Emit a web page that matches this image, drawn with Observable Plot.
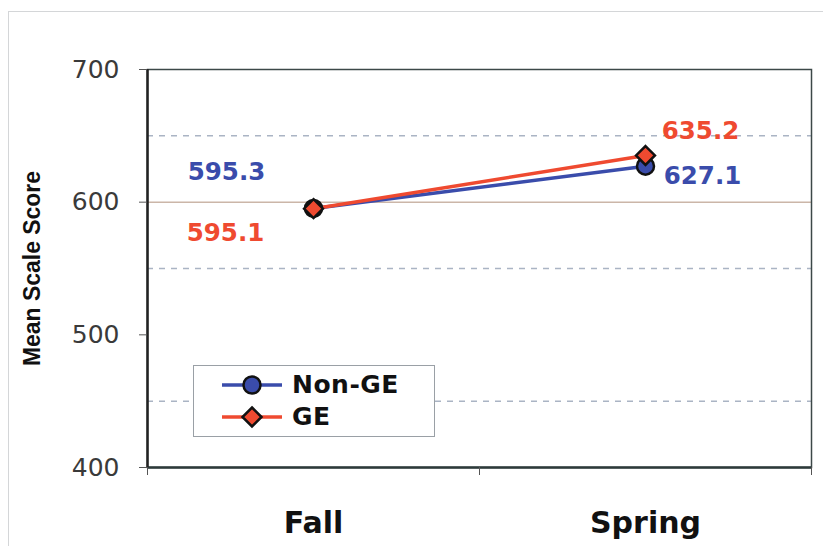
<!DOCTYPE html>
<html>
<head>
<meta charset="utf-8">
<script src="https://cdn.jsdelivr.net/npm/d3@7"></script>
<script src="https://cdn.jsdelivr.net/npm/@observablehq/plot@0.6"></script>
<style>
  html, body { margin: 0; padding: 0; background: #fff; }
  #wrap { position: relative; width: 823px; height: 546px; overflow: hidden; }
  #border { position: absolute; left: 8px; top: 11px; width: 830px; height: 560px; border: 1px solid #d4d6d8; box-sizing: border-box; }
  #legend { position: absolute; left: 193px; top: 365px; width: 242px; height: 72px; border: 1px solid #9aa0a6; background: #fff; box-sizing: border-box; font-family: "DejaVu Sans", sans-serif; font-weight: bold; font-size: 25px; letter-spacing: 0.5px; color: #111; }
  .row { position: absolute; left: 26px; display: flex; align-items: center; }
  .row span { margin-left: 8px; }
  svg { font-family: "DejaVu Sans", sans-serif; }
</style>
</head>
<body>
<div id="wrap">
  <div id="border"></div>
  <div id="chart"></div>
  <div id="legend"></div>
</div>
<script>
// ---- data ----
const seasons = ["Fall", "Spring"];
const nonGE = [595.3, 627.1];
const ge = [595.1, 635.2];
const seriesNames = ["Non-GE", "GE"];
const yTicks = [400, 500, 600, 700];
const gridDashed = [450, 550, 650];
const gridSolid = [600];
const yTitle = "Mean Scale Score";

const colors = { "Non-GE": "#3a4cab", "GE": "#ef4a30" };

const rows = [
  ...seasons.map((s, i) => ({ season: s, series: "Non-GE", value: nonGE[i] })),
  ...seasons.map((s, i) => ({ season: s, series: "GE", value: ge[i] }))
];

const W = 823, H = 546;
const mL = 147, mR = 12, mT = 69, mB = 79;
const bw = (W - mL - mR) / seasons.length;
const innerH = H - mT - mB;

const nonRows = rows.filter(d => d.series === "Non-GE");
const geRows = rows.filter(d => d.series === "GE");

const labelStyle = { x: "season", y: "value", text: d => d.value.toFixed(1), fontSize: 24.5, fontWeight: "bold" };

const chart = Plot.plot({
  width: W,
  height: H,
  marginLeft: mL,
  marginRight: mR,
  marginTop: mT,
  marginBottom: mB,
  x: { type: "band", domain: seasons, padding: 0, label: null },
  y: { domain: [400, 700], label: null },
  style: { background: "transparent", overflow: "visible" },
  marks: [
    Plot.ruleY(gridDashed, { stroke: "#aab4c4", strokeWidth: 1.5, strokeDasharray: "6,6" }),
    Plot.ruleY(gridSolid, { stroke: "#cbb6a8", strokeWidth: 1.5 }),
    Plot.frame({ stroke: "#3c4848", strokeWidth: 1.5 }),
    Plot.ruleY([400], { stroke: "#2d3a3a", strokeWidth: 2.5 }),
    Plot.ruleX([seasons[0]], { dx: -bw / 2, stroke: "#222", strokeWidth: 2.5 }),
    Plot.ruleX(seasons, { dx: -bw / 2, insetTop: innerH, insetBottom: -8, stroke: "#555", strokeWidth: 1 }),
    Plot.ruleX([seasons[seasons.length - 1]], { dx: bw / 2, insetTop: innerH, insetBottom: -8, stroke: "#555", strokeWidth: 1 }),
    Plot.axisY({ ticks: yTicks, tickSize: 8, tickPadding: 20, fontSize: 25, stroke: "#555", color: "#3a3a3a", tickFormat: d => String(d) }),
    Plot.axisX({ tickSize: 0, tickPadding: 44, fontSize: 30, fontWeight: "bold", color: "#111" }),
    Plot.text([yTitle], { frameAnchor: "left", textAnchor: "middle", rotate: -90, dx: -115, fontSize: 24, fontWeight: "bold", fill: "#111", fontFamily: "Liberation Sans, Arial, sans-serif" }),
    Plot.line(nonRows, { x: "season", y: "value", stroke: colors["Non-GE"], strokeWidth: 3.5 }),
    Plot.line(geRows, { x: "season", y: "value", stroke: colors["GE"], strokeWidth: 3.5 }),
    Plot.dot(nonRows, { x: "season", y: "value", symbol: "circle", r: 8.5, fill: colors["Non-GE"], stroke: "#111", strokeWidth: 2.5 }),
    Plot.dot(geRows, { x: "season", y: "value", symbol: "diamond2", r: 8.5, fill: colors["GE"], stroke: "#111", strokeWidth: 2.5 }),
    Plot.text(nonRows, { ...labelStyle, fill: colors["Non-GE"], filter: d => d.season === "Fall", dx: -87, dy: -36 }),
    Plot.text(geRows, { ...labelStyle, fill: colors["GE"], filter: d => d.season === "Fall", dx: -88, dy: 24 }),
    Plot.text(geRows, { ...labelStyle, fill: colors["GE"], filter: d => d.season === "Spring", dx: 55, dy: -24 }),
    Plot.text(nonRows, { ...labelStyle, fill: colors["Non-GE"], filter: d => d.season === "Spring", dx: 57, dy: 10 })
  ]
});
// condense the rotated axis title to the reference's narrow lettering
d3.select(chart).selectAll("text").filter(function () { return this.textContent === yTitle; })
  .attr("textLength", 195).attr("lengthAdjust", "spacingAndGlyphs");
document.getElementById("chart").appendChild(chart);

// legend
const legend = document.getElementById("legend");
seriesNames.forEach((name, i) => {
  const row = document.createElement("div");
  row.className = "row";
  row.style.top = (4 + i * 32) + "px";
  const sym = name === "Non-GE"
    ? `<circle cx="32" cy="12" r="8.5" fill="${colors[name]}" stroke="#111" stroke-width="2.5"/>`
    : `<path d="M32,2.5 L41.5,12 L32,21.5 L22.5,12Z" fill="${colors[name]}" stroke="#111" stroke-width="2.5"/>`;
  row.innerHTML = `<svg width="64" height="24"><line x1="2" x2="62" y1="12" y2="12" stroke="${colors[name]}" stroke-width="3.5"/>${sym}</svg><span>${name}</span>`;
  legend.appendChild(row);
});
</script>
</body>
</html>
